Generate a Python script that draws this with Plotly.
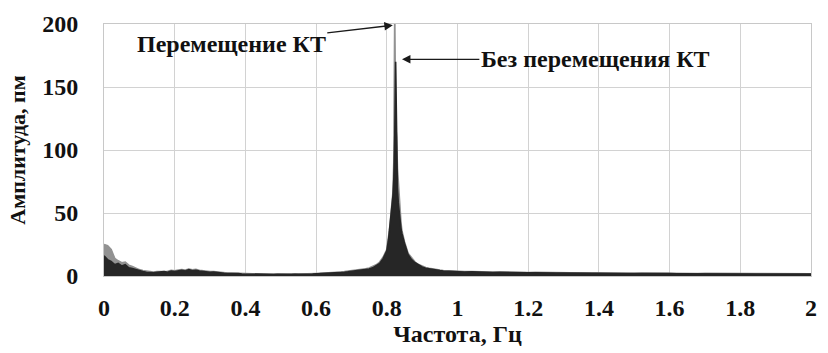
import plotly.graph_objects as go

# Frequency grid (Hz)
freq = ([round(i * 0.01, 4) for i in range(0, 81)] +
        [0.805, 0.8075, 0.81, 0.8125, 0.815, 0.8175, 0.82, 0.8225, 0.825, 0.8275,
         0.83, 0.8325, 0.835, 0.8375, 0.84, 0.8425, 0.845, 0.8475, 0.85] +
        [round(0.86 + i * 0.01, 4) for i in range(0, 13)] +
        [round(1.0 + i * 0.02, 4) for i in range(0, 51)])

# "Без перемещения КТ" (dark)
amp_still = (
    [16, 13, 11.5, 9, 10, 8, 9, 6.5, 6, 5,
     4, 3.5, 3, 2.6, 2.5, 3, 3.2, 3.5, 3, 4,
     3.5, 4, 4.5, 4, 5, 4.2, 4.6, 4, 3.6, 3.4,
     3, 3.1, 2.6, 2.5, 2.1, 2, 2.1, 1.8, 1.9, 1.6,
     1.5, 1.6, 1.4, 1.5, 1.3, 1.4, 1.2, 1.3, 1.2, 1.3,
     1.2, 1.3, 1.3, 1.2, 1.4, 1.3, 1.5, 1.4, 1.6, 1.5,
     1.7, 1.8, 1.9, 2, 2.2, 2.4, 2.5, 2.8, 3, 3.3,
     3.6, 3.9, 4.1, 4.6, 5, 5.6, 6.5, 8, 10, 14,
     20] +
    [29, 35, 42, 48, 55, 64, 78, 110, 170, 105,
     70, 58, 50, 44, 38, 34, 31, 28, 26] +
    [17, 13, 10.5, 8.5, 7.2, 6.2, 5.6, 5, 4.6, 4.3, 4, 3.8, 3.6] +
    [3.4, 3.2, 3.3, 3, 3.1, 2.8, 2.9, 2.7, 2.8, 2.6,
     2.5, 2.6, 2.4, 2.5, 2.3, 2.4, 2.2, 2.3, 2.2, 2.1,
     2.2, 2.0, 2.1, 2.0, 2.0, 1.9, 2.0, 1.9, 1.9, 1.8,
     1.9, 1.8, 1.8, 1.8, 1.7, 1.8, 1.7, 1.7, 1.7, 1.6,
     1.7, 1.6, 1.6, 1.6, 1.6, 1.5, 1.6, 1.5, 1.5, 1.5,
     1.5]
)

# "Перемещение КТ" (grey)
amp_moved = (
    [25, 24, 21, 14, 12, 10.5, 11, 8.5, 7.5, 6,
     5, 4.2, 3.6, 3, 3, 3.5, 3.6, 4, 3.6, 4.5,
     4, 4.6, 5, 4.6, 5.5, 4.8, 5.2, 4.5, 4, 3.8,
     3.4, 3.4, 3, 2.8, 2.4, 2.3, 2.3, 2.1, 2.1, 1.8,
     1.7, 1.8, 1.6, 1.7, 1.5, 1.6, 1.4, 1.5, 1.4, 1.5,
     1.4, 1.5, 1.5, 1.4, 1.6, 1.5, 1.7, 1.6, 1.8, 1.7,
     1.9, 2, 2.1, 2.2, 2.5, 2.7, 2.8, 3.1, 3.4, 3.7,
     4, 4.3, 4.6, 5.1, 5.6, 6.2, 7.2, 8.8, 11, 15,
     21] +
    [30, 36, 43, 49, 57, 66, 90, 200, 120, 110,
     85, 72, 62, 52, 42, 36, 32, 29, 27] +
    [18, 14, 11, 9, 7.6, 6.6, 6, 5.4, 5, 4.6, 4.3, 4.1, 3.9] +
    [3.6, 3.4, 3.5, 3.2, 3.3, 3.0, 3.1, 2.9, 3.0, 2.8,
     2.7, 2.8, 2.6, 2.7, 2.5, 2.6, 2.4, 2.5, 2.4, 2.3,
     2.4, 2.2, 2.3, 2.2, 2.2, 2.1, 2.2, 2.1, 2.1, 2.0,
     2.1, 2.0, 2.0, 2.0, 1.9, 2.0, 1.9, 1.9, 1.9, 1.8,
     1.9, 1.8, 1.8, 1.8, 1.8, 1.7, 1.8, 1.7, 1.7, 1.7,
     1.7]
)

x_ticks = [0, 0.2, 0.4, 0.6, 0.8, 1, 1.2, 1.4, 1.6, 1.8, 2]
x_ticklabels = ["0", "0.2", "0.4", "0.6", "0.8", "1", "1.2", "1.4", "1.6", "1.8", "2"]
y_ticks = [0, 50, 100, 150, 200]

FONT = "Liberation Serif"

fig = go.Figure()
fig.add_trace(go.Scatter(
    x=freq, y=amp_moved, mode="lines", fill="tozeroy",
    line=dict(color="#929292", width=1.8), fillcolor="#929292",
    name="Перемещение КТ", showlegend=False))
fig.add_trace(go.Scatter(
    x=freq, y=amp_still, mode="lines", fill="tozeroy",
    line=dict(color="#262626", width=1.6), fillcolor="#262626",
    name="Без перемещения КТ", showlegend=False))

fig.add_annotation(
    x=0.817, y=199, ax=0.36, ay=184, axref="x", ayref="y",
    xref="x", yref="y", text="Перемещение КТ", showarrow=True,
    arrowhead=2, arrowsize=1.3, arrowwidth=1.3, arrowcolor="#1a1a1a",
    font=dict(family=FONT, size=24, color="#111111", weight="bold"))
fig.add_annotation(
    x=0.843, y=172, ax=1.39, ay=172, axref="x", ayref="y",
    xref="x", yref="y", text="Без перемещения КТ", showarrow=True,
    arrowhead=2, arrowsize=1.3, arrowwidth=1.3, arrowcolor="#1a1a1a",
    font=dict(family=FONT, size=24, color="#111111", weight="bold"))

fig.update_layout(
    width=828, height=353,
    margin=dict(l=104, r=11, t=20, b=77),
    paper_bgcolor="white", plot_bgcolor="white",
    font=dict(family=FONT, size=24, color="#111111", weight="bold"),
    xaxis=dict(
        range=[0, 2], tickvals=x_ticks, ticktext=x_ticklabels,
        showgrid=True, gridcolor="#d2d2d2", gridwidth=1,
        showline=True, linecolor="#c8c8c8", mirror=True,
        zeroline=False, ticks="", ticklabelstandoff=10,
        title=dict(text="Частота, Гц", standoff=4,
                   font=dict(family=FONT, size=24, weight="bold"))),
    yaxis=dict(
        range=[0, 200], tickvals=y_ticks,
        showgrid=True, gridcolor="#d2d2d2", gridwidth=1,
        showline=True, linecolor="#c8c8c8", mirror=True,
        zeroline=False, ticks="", ticklabelstandoff=20,
        title=dict(text="Амплитуда, пм", standoff=10,
                   font=dict(family=FONT, size=22, weight="bold"))),
)

fig.write_html("out.html")
